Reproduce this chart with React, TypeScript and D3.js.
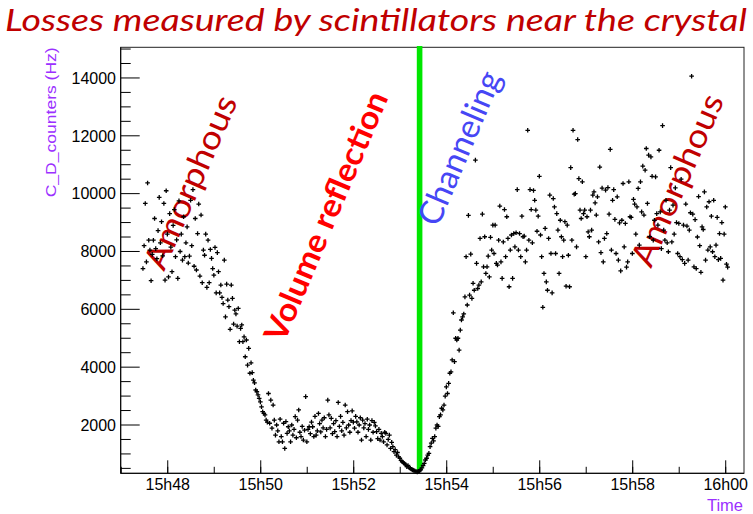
import React from "react";
import * as d3 from "d3";

const W = 753;
const H = 514;

// Acquisition: one reading every 1.5 s starting at 15:47:28
const runStart = new Date(2012, 8, 15, 15, 47, 28);
const sampleStepSeconds = 1.5;
const channelingTime = new Date(2012, 8, 15, 15, 53, 25);

const titleText = "Losses measured by scintillators near the crystal";
const yAxisTitle = "C_D_counters (Hz)";
const xAxisTitle = "Time";
const yTickValues = [2000, 4000, 6000, 8000, 10000, 12000, 14000];

// Loss rates (Hz) while the crystal is in the amorphous orientation, then rotating
const lossesAmorphousIn = [
  7410, 8200, 9660, 7640, 10370, 8390, 8050, 6990, 7900, 8390, 9140, 8100, 7750, 8720, 9870, 8300, 9030, 7850, 9660, 7010,
  10100, 8600, 7120, 9310, 8150, 7300, 8900, 9450, 7820, 8400, 7070, 9750, 8000, 8600, 7700, 9200, 7820, 8300, 8850, 7600,
  7840, 9770, 8200, 10140, 7490, 9140, 7360, 8620, 9640, 7150, 9260, 6920, 8050, 7870, 8600, 6760, 8390, 6920, 8070, 7760,
  7410, 7180, 8140, 6570, 7960, 7300, 6570, 6840, 6410, 6200, 7700, 5740, 6870, 6320, 6090, 5310, 6840, 6380, 5490, 5970,
  5840, 5420, 6030, 4880, 5340, 5460, 4880, 5050, 4360, 4940, 4070, 4650, 3790, 4150, 3810, 3550, 3460, 3210, 3150, 3040,
];

// Volume reflection plateau
const lossesVolumeReflection = [
  2920, 2800, 2630, 2460, 2400, 2350, 2170, 2100, 3090, 2060, 2860, 1890, 2690, 2170, 1650, 2000, 1800, 1420, 2200, 1600,
  1420, 2060, 1190, 2120, 1710, 1940, 1800, 1420, 2000, 1650, 1850, 2290, 1560, 2170, 2520, 1750, 1600, 1950, 1480, 1820,
  2980, 1420, 1850, 1940, 1700, 2100, 1940, 1600, 2300, 1650, 1800, 2400, 2050, 1760, 2170, 1900, 2250, 1600, 1850, 2860,
  2350, 1900, 2230, 1700, 2050, 1770, 2150, 1600, 2780, 1950, 2300, 1800, 2090, 1650, 2690, 1900, 2460, 2000, 1750, 2150,
  2490, 2100, 1890, 2300, 2110, 1750, 2000, 2250, 1480, 2170, 1900, 2050, 1600, 2200, 1850, 2000, 1480, 2150, 1750, 2090,
  1970, 1770, 1530, 1850, 1480, 1710, 1600, 1420, 1750, 1710, 1310, 1500, 1650, 1190, 1400, 1250, 1080, 1150, 960, 1050,
];

// Channeling minimum and recovery
const lossesChanneling = [
  900, 850, 780, 730, 700, 670, 620, 560, 600, 520, 500, 470, 450, 430, 410, 390, 380, 400, 420, 450,
  520, 600, 670, 790, 850, 960, 1020, 1250, 1370, 1540, 1450, 1600, 1890, 2000, 1950, 2290, 2350, 2580, 2520, 2690,
  3000, 3320, 3090, 3440, 3790, 3840, 4250, 5880, 4190, 5000, 4940, 5000, 4590, 5280, 5630, 5740, 5840, 6430, 7820, 6150,
];

// Back to amorphous orientation
const lossesAmorphousOut = [
  9250, 6490, 7910, 6380, 6900, 6660, 11160, 7590, 6720, 6840, 8450, 6950, 9290, 7470, 8510, 7240, 7470, 7840, 7120, 8490,
  8050, 8910, 7930, 8910, 7590, 7530, 8390, 9570, 7640, 7070, 8330, 9450, 7820, 9200, 8450, 6780, 8050, 8570, 7070, 8620,
  8160, 8650, 10140, 8050, 8620, 7820, 9220, 8510, 8530, 7640, 8050, 12190, 8390, 10140, 9450, 8300, 10110, 9770, 9430, 8700,
  9220, 10600, 8570, 7820, 6070, 7240, 8800, 6950, 6660, 8450, 9950, 7930, 6570, 9830, 9540, 7930, 9310, 8740, 7240, 9080,
  8510, 7820, 8390, 9030, 6800, 8910, 7870, 6780, 10900, 8390, 12190, 9980, 10000, 8160, 11870, 10520, 9430, 9140, 10410, 9310,
  9430, 7820, 9200, 8680, 8510, 9430, 8740, 9950, 10060, 9680, 9260, 9890, 8330, 10920, 7960, 10190, 7640, 8450, 10120, 8620,
  10210, 9290, 11530, 8050, 9770, 10140, 9110, 7930, 9890, 7700, 8990, 7330, 9080, 10350, 8160, 8970, 7460, 7640, 10410, 9200,
  9180, 7930, 9800, 9640, 8600, 9540, 10180, 8220, 10410, 9370, 10950, 9260, 10810, 11560, 9660, 11330, 8510, 11270, 10600, 8390,
  9080, 10580, 9310, 8910, 11500, 9370, 8100, 12350, 8740, 8390, 9770, 8300, 7990, 9430, 10900, 8330, 9600, 8600, 10200, 9000,
  7930, 8970, 7820, 10500, 7720, 8910, 7590, 9640, 8880, 7700, 8740, 9340, 14060, 9290, 7470, 9100, 7410, 8500, 9900, 8200,
  7280, 8850, 8760, 10060, 7700, 9540, 8050, 9720, 8160, 9220, 7990, 9770, 7820, 8220, 9180, 7720, 8620, 7760, 9000, 7010,
  8600, 9540, 7560, 7460,
];

const regionLabels = [
  { text: "Amorphous", x: 164, y: 272, angle: -66.5, size: 33, weight: 400, color: "#c00000", length: 186 },
  { text: "Volume reflection", x: 284, y: 344, angle: -67, size: 32, weight: 700, color: "#ff0000", length: 268 },
  { text: "Channeling", x: 438, y: 228, angle: -67, size: 33, weight: 400, color: "#4646f5", length: 164 },
  { text: "Amorphous", x: 651, y: 269, angle: -66.5, size: 33, weight: 400, color: "#c00000", length: 184 },
];

export default function App() {
  const frame = { left: 120.7, right: 744, top: 47.3, bottom: 473.3 };

  const x = d3
    .scaleTime()
    .domain([new Date(2012, 8, 15, 15, 46, 59, 300), new Date(2012, 8, 15, 16, 0, 23, 600)])
    .range([frame.left, frame.right]);
  const y = d3.scaleLinear().domain([330, 15060]).range([frame.bottom, frame.top]);

  const values = [...lossesAmorphousIn, ...lossesVolumeReflection, ...lossesChanneling, ...lossesAmorphousOut];
  const points = values.map((v, i) => ({
    t: d3.timeMillisecond.offset(runStart, Math.round(i * sampleStepSeconds * 1000)),
    v,
  }));

  const xMajor = x.ticks(d3.timeMinute.every(2)!);
  const xMinor = x.ticks(d3.timeMinute.every(1)!);
  const fmt = d3.timeFormat("%Hh%M");
  const yMinor = d3.range(500, 15001, 500);

  const cross = "M-2.3,0H2.3M0,-2.3V2.3";
  const gx = x(channelingTime);

  return (
    <svg
      width={W}
      height={H}
      style={{ position: "absolute", left: 0, top: 0, display: "block" }}
      fontFamily="'Liberation Sans', Arial, sans-serif"
    >
      <rect width={W} height={H} fill="#ffffff" />

      <text
        x={5}
        y={31}
        fontFamily="Lato, 'Open Sans', sans-serif"
        fontStyle="italic"
        fontSize={30}
        fill="#c00000"
        textLength={742}
        lengthAdjust="spacingAndGlyphs"
      >
        {titleText}
      </text>

      {/* plot frame */}
      <rect
        x={frame.left}
        y={frame.top}
        width={frame.right - frame.left}
        height={frame.bottom - frame.top}
        fill="none"
        stroke="#222"
        strokeWidth={1}
      />

      {/* y axis ticks */}
      {yMinor.map((v) => {
        const major = v % 2000 === 0;
        return (
          <line
            key={"ym" + v}
            x1={frame.left}
            x2={frame.left + (major ? 19 : 10)}
            y1={y(v)}
            y2={y(v)}
            stroke="#000"
            strokeWidth={1}
          />
        );
      })}
      {yTickValues.map((v) => (
        <text key={"yl" + v} x={116} y={y(v)} dy="0.36em" textAnchor="end" fontSize={16} fill="#000">
          {v}
        </text>
      ))}

      {/* x axis ticks */}
      {xMinor.map((t) => (
        <line
          key={"xm" + t.getTime()}
          x1={x(t)}
          x2={x(t)}
          y1={frame.bottom}
          y2={frame.bottom - 6.5}
          stroke="#000"
        />
      ))}
      {xMajor.map((t) => (
        <g key={"xM" + t.getTime()}>
          <line x1={x(t)} x2={x(t)} y1={frame.bottom} y2={frame.bottom - 13} stroke="#000" />
          <text x={x(t)} y={490} textAnchor="middle" fontSize={16} fill="#000">
            {fmt(t)}
          </text>
        </g>
      ))}

      <line x1={frame.left} x2={frame.right} y1={frame.bottom} y2={frame.bottom} stroke="#000" />
      <line x1={frame.left} x2={frame.left} y1={frame.top} y2={frame.bottom} stroke="#000" />

      {/* axis titles */}
      <text
        transform={`translate(56,${frame.top}) rotate(-90)`}
        textAnchor="end"
        fontSize={15}
        fill="#9b30ff"
        textLength={150}
        lengthAdjust="spacingAndGlyphs"
      >
        {yAxisTitle}
      </text>
      <text x={743} y={511} textAnchor="end" fontSize={16.5} fill="#9b30ff">
        {xAxisTitle}
      </text>

      {/* channeling marker */}
      <rect x={gx - 2.8} y={46} width={5.6} height={424} fill="#00e600" />

      {/* region labels */}
      {regionLabels.map((l, i) => (
        <text
          key={"rl" + i}
          transform={`translate(${l.x},${l.y}) rotate(${l.angle})`}
          fontFamily="Lato, 'Open Sans', sans-serif"
          fontSize={l.size}
          fontWeight={l.weight}
          fill={l.color}
          textLength={l.length}
          lengthAdjust="spacingAndGlyphs"
        >
          {l.text}
        </text>
      ))}

      {/* measurements */}
      <g stroke="#000" strokeWidth={1.3} fill="none">
        {points.map((p, i) => (
          <path key={i} d={cross} transform={`translate(${x(p.t).toFixed(2)},${y(p.v).toFixed(2)})`} />
        ))}
      </g>
    </svg>
  );
}
